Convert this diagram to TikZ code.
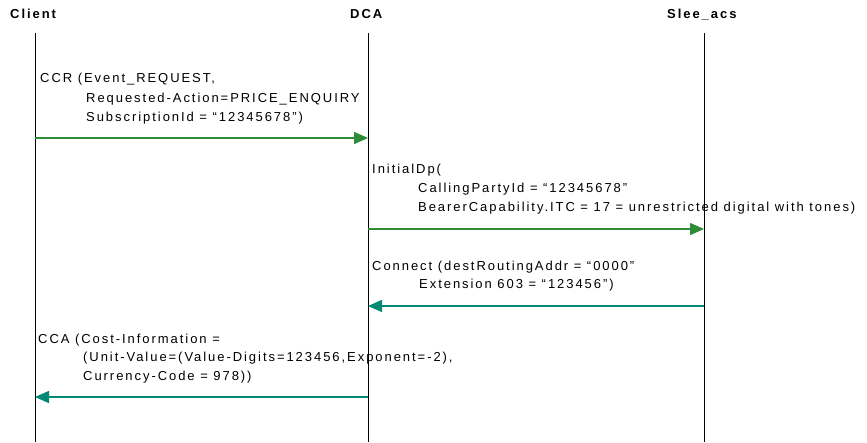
\documentclass[tikz,border=0pt]{standalone}
\usepackage{fontspec}
\setmainfont{Liberation Sans}[LetterSpace=15]
\usetikzlibrary{arrows.meta,positioning}
\definecolor{reqgreen}{RGB}{46,139,56}
\definecolor{ansteal}{RGB}{0,137,115}

\begin{document}
\begin{tikzpicture}[x=1pt,y=-1pt,>={Triangle[length=14pt,width=12pt]},
  actor/.style={font=\bfseries\fontsize{13}{15}\selectfont,anchor=base west,inner sep=0pt},
  msg/.style={font=\fontsize{13}{15}\selectfont,anchor=base west,inner sep=0pt},
  lifeline/.style={draw=black,line width=0.9pt},
  reqarrow/.style={->,draw=reqgreen,line width=1.4pt},
  ansarrow/.style={->,draw=ansteal,line width=1.4pt}]
\useasboundingbox (0,0) rectangle (867,442);
% actors and lifelines
\node[actor] (client) at (10,18) {Client};
\node[actor] (dca) at (350,18) {DCA};
\node[actor] (slee) at (667,18) {Slee\_acs};
\coordinate (clientTop) at (35,33);   \coordinate (clientBot) at (35,442);
\coordinate (dcaTop) at (368,33);     \coordinate (dcaBot) at (368,442);
\coordinate (sleeTop) at (704,33);    \coordinate (sleeBot) at (704,442);
\draw[lifeline] (clientTop) -- (clientBot);
\draw[lifeline] (dcaTop) -- (dcaBot);
\draw[lifeline] (sleeTop) -- (sleeBot);
% CCR
\node[msg] (ccrA) at (40,82) {CCR (Event\_REQUEST,};
\node[msg] (ccrB) at (86,102) {Requested-Action=PRICE\_ENQUIRY};
\node[msg] (ccrC) at (86,121) {SubscriptionId = “12345678”)};
\coordinate (ccrFrom) at (35,138); \coordinate (ccrTo) at (368,138);
\draw[reqarrow] (ccrFrom) -- (ccrTo);
% InitialDp
\node[msg] (idpA) at (372,173) {InitialDp(};
\node[msg] (idpB) at (418,192) {CallingPartyId = “12345678”};
\node[msg] (idpC) at (418,211) {BearerCapability.ITC = 17 = unrestricted digital with tones)};
\coordinate (idpFrom) at (368,229); \coordinate (idpTo) at (704,229);
\draw[reqarrow] (idpFrom) -- (idpTo);
% Connect
\node[msg] (conA) at (372,270) {Connect (destRoutingAddr = “0000”};
\node[msg] (conB) at (419,288) {Extension 603 = “123456”)};
\coordinate (conFrom) at (704,306); \coordinate (conTo) at (368,306);
\draw[ansarrow] (conFrom) -- (conTo);
% CCA
\node[msg] (ccaA) at (38,343) {CCA (Cost-Information =};
\node[msg] (ccaB) at (83,361) {(Unit-Value=(Value-Digits=123456,Exponent=-2),};
\node[msg] (ccaC) at (83,380) {Currency-Code = 978))};
\coordinate (ccaFrom) at (368,397); \coordinate (ccaTo) at (35,397);
\draw[ansarrow] (ccaFrom) -- (ccaTo);
\end{tikzpicture}
\end{document}
